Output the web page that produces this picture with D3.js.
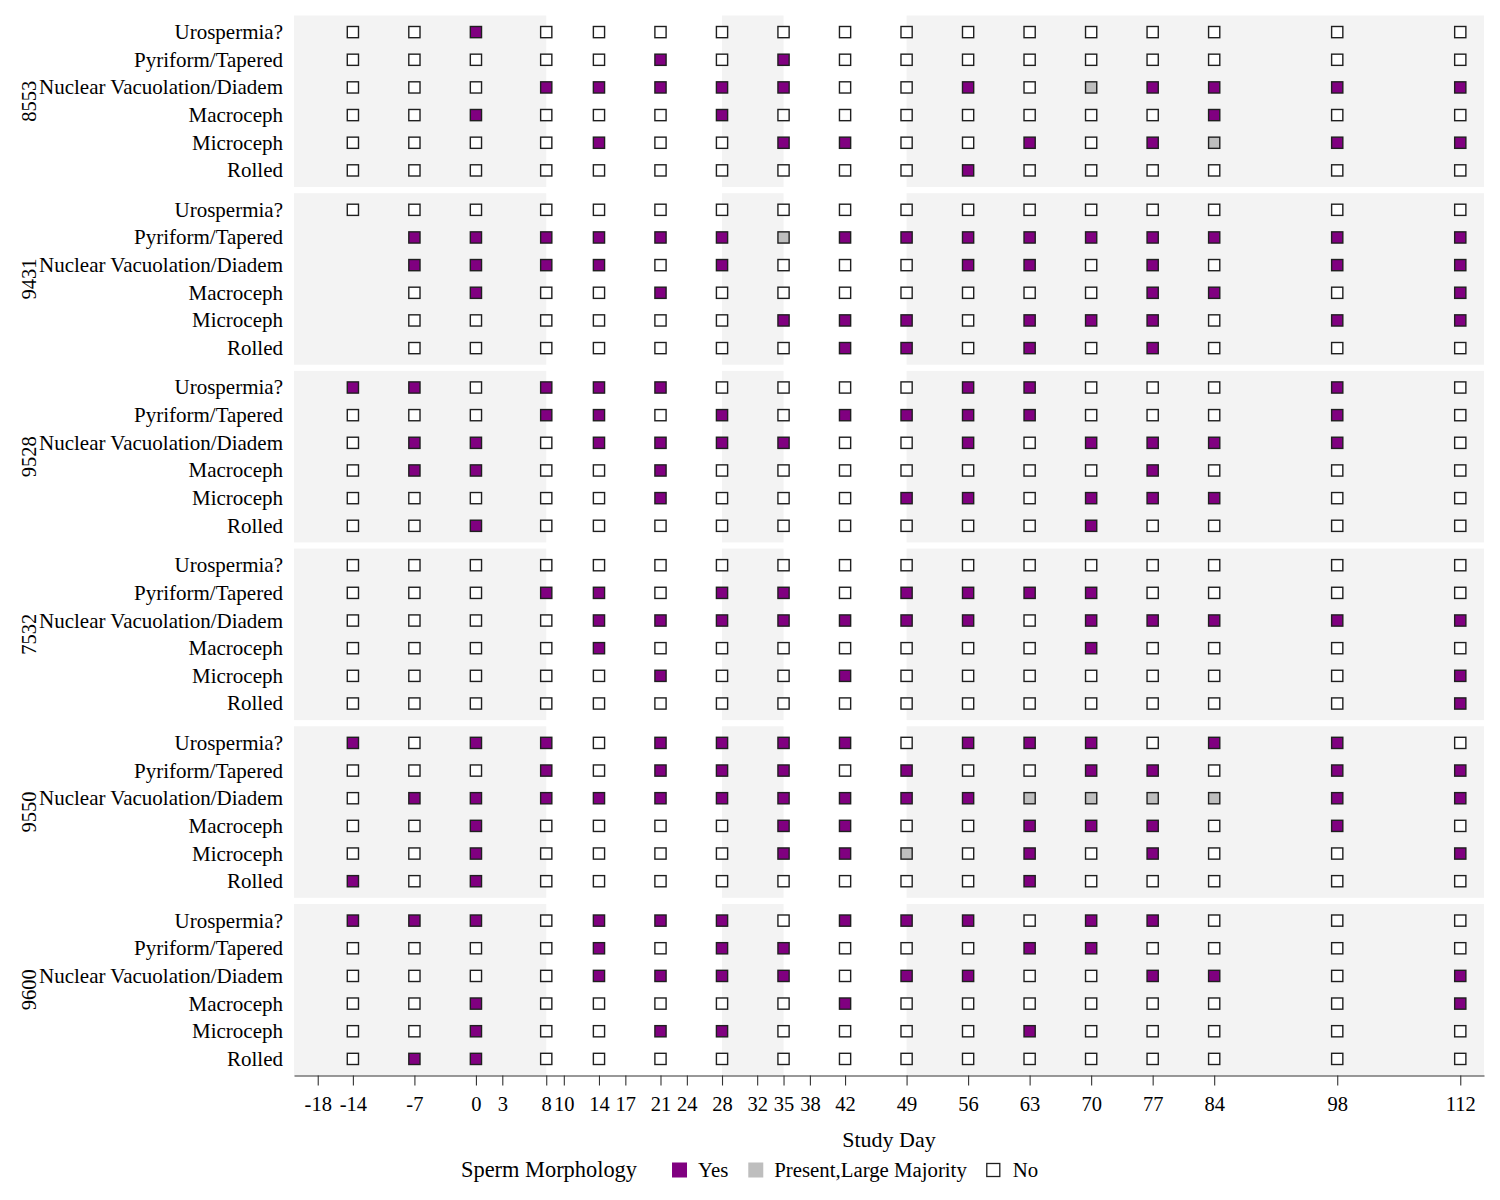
<!DOCTYPE html>
<html lang="en">
<head>
  <meta charset="UTF-8" />
  <title>Sperm Morphology by Study Day</title>
  <script src="https://cdn.jsdelivr.net/npm/d3@7"></script>
  <style>
    body {
      margin: 0;
      background: #fff;
    }
    svg text {
      font-family: "Liberation Serif", "DejaVu Serif", serif;
      fill: #000;
    }
  </style>
</head>
<body>
  <div id="chart"></div>

  <script>
    // ---- data ----
    const days = [-14, -7, 0, 8, 14, 21, 28, 35, 42, 49, 56, 63, 70, 77, 84, 98, 112];
    const tickDays = [-18, -14, -7, 0, 3, 8, 10, 14, 17, 21, 24, 28, 32, 35, 38, 42, 49, 56, 63, 70, 77, 84, 98, 112];
    const morphologies = ["Urospermia?", "Pyriform/Tapered", "Nuclear Vacuolation/Diadem", "Macroceph", "Microceph", "Rolled"];
    const animals = ["8553", "9431", "9528", "7532", "9550", "9600"];
    const levels = ["Yes", "Present,Large Majority", "No"];
    const levelCodes = ["Y", "P", "N"];
    // shaded day ranges behind the points
    const shadeBands = [[-Infinity, 8], [28, 35], [49, Infinity]];

    // one string per morphology row, one letter per study day ("-" = no sample)
    const a8553 = [
      "NNYNNNNNNNNNNNNNN",
      "NNNNNYNYNNNNNNNNN",
      "NNNYYYYYNNYNPYYYY",
      "NNYNNNYNNNNNNNYNN",
      "NNNNYNNYYNNYNYPYY",
      "NNNNNNNNNNYNNNNNN"
    ];
    const a9431 = [
      "NNNNNNNNNNNNNNNNN",
      "-YYYYYYPYYYYYYYYY",
      "-YYYYNYNNNYYNYNYY",
      "-NYNNYNNNNNNNYYNY",
      "-NNNNNNYYYNYYYNYY",
      "-NNNNNNNYYNYNYNNN"
    ];
    const a9528 = [
      "YYNYYYNNNNYYNNNYN",
      "NNNYYNYNYYYYNNNYN",
      "NYYNYYYYNNYNYYYYN",
      "NYYNNYNNNNNNNYNNN",
      "NNNNNYNNNYYNYYYNN",
      "NNYNNNNNNNNNYNNNN"
    ];
    const a7532 = [
      "NNNNNNNNNNNNNNNNN",
      "NNNYYNYYNYYYYNNNN",
      "NNNNYYYYYYYNYYYYY",
      "NNNNYNNNNNNNYNNNN",
      "NNNNNYNNYNNNNNNNY",
      "NNNNNNNNNNNNNNNNY"
    ];
    const a9550 = [
      "YNYYNYYYYNYYYNYYN",
      "NNNYNYYYNYNNYYNYY",
      "NYYYYYYYYYYPPPPYY",
      "NNYNNNNYYNNYYYNYN",
      "NNYNNNNYYPNYNYNNY",
      "YNYNNNNNNNNYNNNNN"
    ];
    const a9600 = [
      "YYYNYYYNYYYNYYNNN",
      "NNNNYNYYNNNYYNNNN",
      "NNNNYYYYNYYNNYYNY",
      "NNYNNNNNYNNNNNNNY",
      "NNYNNYYNNNNYNNNNN",
      "NYYNNNNNNNNNNNNNN"
    ];
    const animalRows = [a8553, a9431, a9528, a7532, a9550, a9600];

    // ---- layout ----
    const width = 1500, height = 1200;
    const plotLeft = 294, plotRight = 1484;
    const panelTop = 15.5, panelHeight = 171.5, panelGap = 6.2;
    const axisY = panelTop + animals.length * panelHeight + (animals.length - 1) * panelGap;
    const fillColor = { "Yes": "#800080", "Present,Large Majority": "#bebebe", "No": "#ffffff" };

    const svg = d3.select("#chart")
      .append("svg")
      .attr("width", width)
      .attr("height", height);

    const x = d3.scaleLinear()
      .domain([-20.7, 114.7])
      .range([plotLeft, plotRight]);

    const y = d3.scalePoint()
      .domain(morphologies)
      .range([0, panelHeight])
      .padding(0.6);

    animals.forEach((animal, i) => {
      const top = panelTop + i * (panelHeight + panelGap);
      const g = svg.append("g").attr("transform", `translate(0, ${top})`);

      // shaded bands
      g.selectAll("rect.band")
        .data(shadeBands)
        .enter()
        .append("rect")
        .attr("class", "band")
        .attr("x", d => x(Math.max(d[0], x.domain()[0])))
        .attr("width", d => x(Math.min(d[1], x.domain()[1])) - x(Math.max(d[0], x.domain()[0])))
        .attr("y", 0)
        .attr("height", panelHeight)
        .attr("fill", "#f3f3f3");

      // row labels
      g.selectAll("text.row")
        .data(morphologies)
        .enter()
        .append("text")
        .attr("class", "row")
        .attr("x", 283)
        .attr("y", d => y(d))
        .attr("text-anchor", "end")
        .attr("dominant-baseline", "central")
        .style("font-size", "21px")
        .text(d => d);

      // facet label
      g.append("text")
        .attr("transform", `translate(29, ${panelHeight / 2}) rotate(-90)`)
        .attr("text-anchor", "middle")
        .attr("dominant-baseline", "central")
        .style("font-size", "20.5px")
        .text(animal);

      // points
      const cells = [];
      animalRows[i].forEach((row, r) => {
        row.split("").forEach((code, c) => {
          if (code === "-") return;
          cells.push({
            morph: morphologies[r],
            day: days[c],
            level: levels[levelCodes.indexOf(code)]
          });
        });
      });

      const s = 11.2;
      g.selectAll("rect.cell")
        .data(cells)
        .enter()
        .append("rect")
        .attr("class", "cell")
        .attr("x", d => x(d.day) - s / 2)
        .attr("y", d => y(d.morph) - s / 2)
        .attr("width", s)
        .attr("height", s)
        .attr("fill", d => fillColor[d.level])
        .attr("stroke", "#1f1f1f")
        .attr("stroke-width", 1.4);
    });

    // x axis
    const xAxis = svg.append("g")
      .attr("transform", `translate(0, ${axisY})`)
      .call(d3.axisBottom(x).tickValues(tickDays).tickSize(10).tickSizeOuter(0).tickPadding(11).tickFormat(d => String(d)));

    xAxis.select(".domain").attr("stroke", "#333").attr("stroke-width", 1.1);
    xAxis.selectAll(".tick line").attr("stroke", "#333").attr("stroke-width", 1.1);
    xAxis.selectAll(".tick text")
      .style("font-family", "'Liberation Serif', serif")
      .style("font-size", "20.5px")
      .attr("fill", "#000");

    svg.append("text")
      .attr("x", (plotLeft + plotRight) / 2)
      .attr("y", 1147)
      .attr("text-anchor", "middle")
      .style("font-size", "22px")
      .text("Study Day");

    // legend
    const legend = svg.append("g").attr("transform", "translate(461, 1177)");
    const title = legend.append("text")
      .attr("x", 0)
      .attr("y", 0)
      .style("font-size", "22.4px")
      .text("Sperm Morphology");

    let cursor = title.node().getComputedTextLength() + 35;
    levels.forEach((lvl, k) => {
      const isNo = lvl === "No";
      const ks = isNo ? 13 : 15;
      legend.append("rect")
        .attr("x", cursor)
        .attr("y", -7 - ks / 2)
        .attr("width", ks)
        .attr("height", ks)
        .attr("fill", fillColor[lvl])
        .attr("stroke", isNo ? "#1f1f1f" : "none")
        .attr("stroke-width", 1.3);
      const t = legend.append("text")
        .attr("x", cursor + 26)
        .attr("y", 0)
        .style("font-size", "20.8px")
        .text(lvl);
      cursor += 26 + t.node().getComputedTextLength() + 20;
    });
  </script>
</body>
</html>
